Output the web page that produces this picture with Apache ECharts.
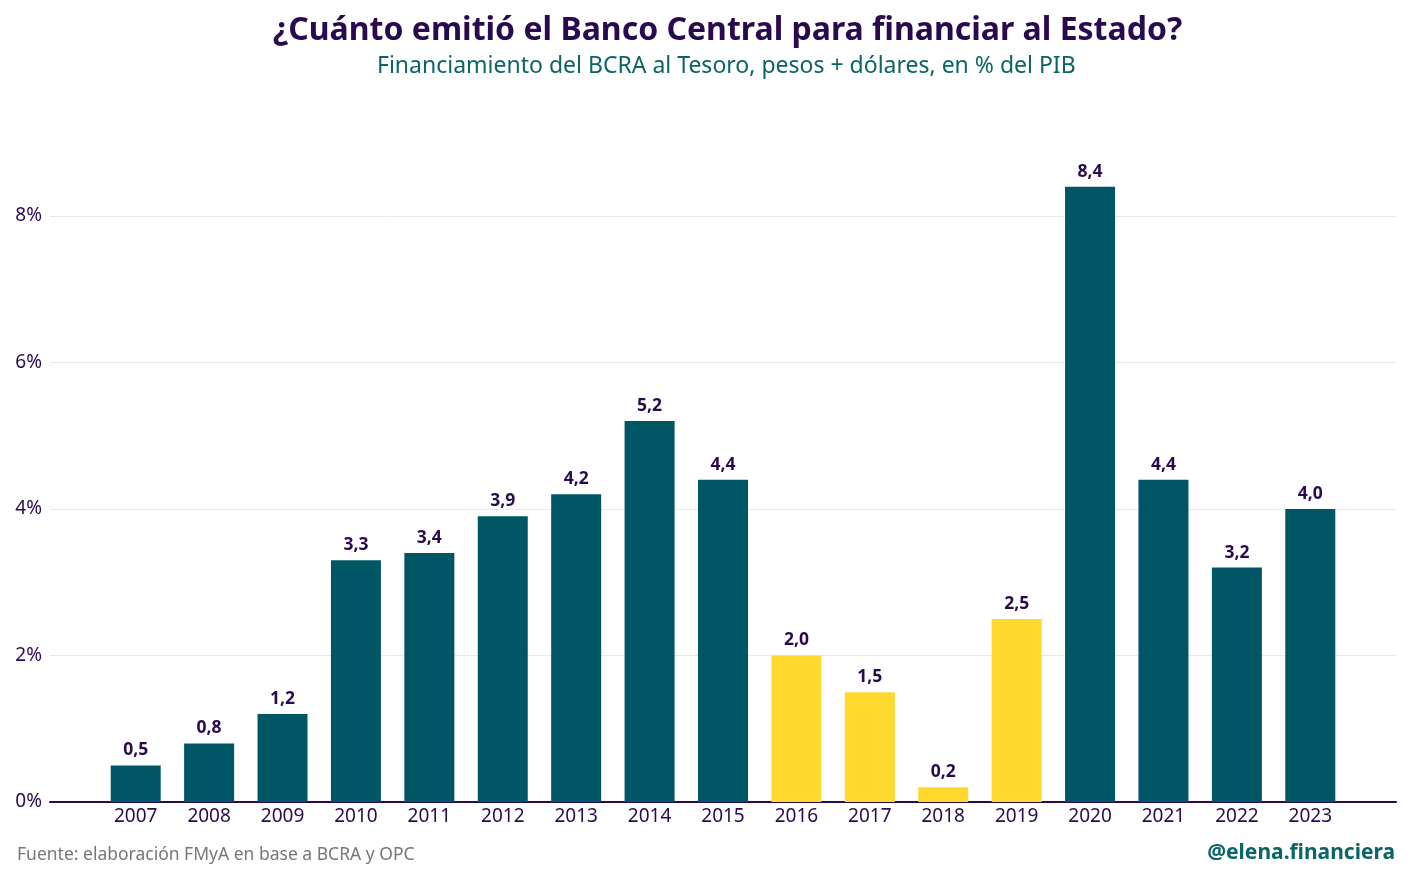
<!DOCTYPE html>
<html>
<head>
<meta charset="utf-8">
<script src="https://cdn.jsdelivr.net/npm/echarts@6/dist/echarts.min.js"></script>
<style>
  html, body { margin: 0; padding: 0; background: #fff; }
  #chart { width: 1410px; height: 879px; }
</style>
</head>
<body>
<div id="chart"></div>
<script>
// datos
var years = ['2007', '2008', '2009', '2010', '2011', '2012', '2013', '2014', '2015',
    '2016', '2017', '2018', '2019', '2020', '2021', '2022', '2023'];
var values = [0.5, 0.8, 1.2, 3.3, 3.4, 3.9, 4.2, 5.2, 4.4, 2.0, 1.5, 0.2, 2.5, 8.4, 4.4, 3.2, 4.0];
// años de Macri en amarillo
var highlight = ['2016', '2017', '2018', '2019'];

var teal = '#015665';
var yellow = '#FFD92E';
var purple = '#2A0A4E';
var font = 'Noto Sans';

var barData = [];
for (var i = 0; i < years.length; i++) {
    barData.push({
        value: values[i],
        itemStyle: {color: highlight.indexOf(years[i]) >= 0 ? yellow : teal}
    });
}

var yMax = 8.6;
var chart = echarts.init(document.getElementById('chart'));
chart.setOption({
    backgroundColor: '#fff',
    animation: false,
    textStyle: {fontFamily: font},
    title: [{
        text: '¿Cuánto emitió el Banco Central para financiar al Estado?',
        left: 268, top: 10,
        textStyle: {fontFamily: font, fontSize: 32, fontWeight: 'bold', color: purple}
    }, {
        text: 'Financiamiento del BCRA al Tesoro, pesos + dólares, en % del PIB',
        left: 372, top: 50,
        textStyle: {fontFamily: font, fontSize: 23, fontWeight: 'normal', color: '#0B6466'}
    }, {
        text: 'Fuente: elaboración FMyA en base a BCRA y OPC',
        left: 12, top: 841,
        textStyle: {fontFamily: font, fontSize: 17.5, fontWeight: 'normal', color: '#777'}
    }, {
        text: '@elena.financiera',
        right: 10, top: 838,
        textStyle: {fontFamily: font, fontSize: 21, fontWeight: 'bold', color: '#0B6466'}
    }],
    // grid 0: ejes de fondo (ancho completo), grid 1: barras
    grid: [
        {left: 50, right: 14, top: 802 - yMax * 73.25, bottom: 879 - 802},
        {left: 99, right: 63, top: 802 - yMax * 73.25, bottom: 879 - 802}
    ],
    xAxis: [{
        gridIndex: 0, type: 'category', data: [''],
        axisLine: {show: true, lineStyle: {color: purple, width: 2}},
        axisTick: {show: false}, axisLabel: {show: false}
    }, {
        gridIndex: 1, type: 'category', data: years,
        axisLine: {show: false}, axisTick: {show: false},
        axisLabel: {color: purple, fontSize: 19, margin: 5}
    }],
    yAxis: [{
        gridIndex: 0, type: 'value', min: 0, max: yMax, interval: 2,
        axisLine: {show: false}, axisTick: {show: false},
        axisLabel: {color: purple, fontSize: 19, margin: 8, showMaxLabel: false,
            formatter: function (v) { return v + '%'; }},
        splitLine: {show: true, showMaxLine: false, lineStyle: {color: '#e8e8e8', width: 1}}
    }, {
        gridIndex: 1, type: 'value', min: 0, max: yMax, interval: 2, show: false
    }],
    series: [{
        type: 'bar',
        xAxisIndex: 1, yAxisIndex: 1,
        data: barData,
        barWidth: 50,
        label: {
            show: true, position: 'top', distance: 6,
            color: purple, fontWeight: 'bold', fontSize: 17.5,
            formatter: function (p) { return p.value.toFixed(1).replace('.', ','); }
        }
    }]
});
</script>
</body>
</html>
